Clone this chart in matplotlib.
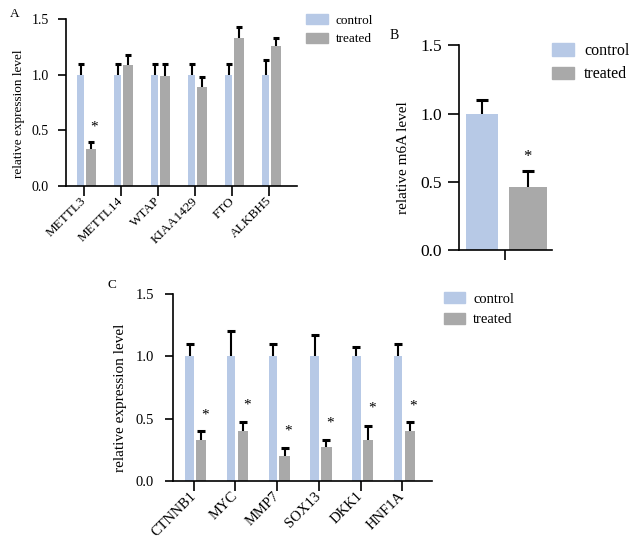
import matplotlib.pyplot as plt
from matplotlib.patches import Patch
import numpy as np

plt.rcParams['font.family'] = ['Liberation Serif', 'DejaVu Serif']

# panel A
genes_a = ['METTL3', 'METTL14', 'WTAP', 'KIAA1429', 'FTO', 'ALKBH5']
ctrl_a = [1.0, 1.0, 1.0, 1.0, 1.0, 1.0]
ctrl_a_top = [1.10, 1.10, 1.10, 1.10, 1.10, 1.13]
trt_a = [0.33, 1.09, 0.99, 0.89, 1.33, 1.26]
trt_a_top = [0.40, 1.18, 1.10, 0.98, 1.43, 1.33]
star_a = [0.53, None, None, None, None, None]

# panel B
ctrl_b, ctrl_b_top = 1.0, 1.10
trt_b, trt_b_top = 0.46, 0.58
star_b = 0.68

# panel C
genes_c = ['CTNNB1', 'MYC', 'MMP7', 'SOX13', 'DKK1', 'HNF1A']
ctrl_c = [1.0, 1.0, 1.0, 1.0, 1.0, 1.0]
ctrl_c_top = [1.10, 1.20, 1.10, 1.17, 1.07, 1.10]
trt_c = [0.33, 0.40, 0.20, 0.27, 0.33, 0.40]
trt_c_top = [0.40, 0.47, 0.26, 0.33, 0.44, 0.47]
star_c = [0.53, 0.61, 0.40, 0.46, 0.58, 0.60]

blue = '#b7c9e6'
grey = '#a9a9a9'

fig = plt.figure(figsize=(6.31, 5.44), dpi=100)


def style(ax, fs, ylen, ypad):
    for s in ['top', 'right']:
        ax.spines[s].set_visible(False)
    for s in ['left', 'bottom']:
        ax.spines[s].set_linewidth(1.2)
    ax.set_ylim(0, 1.5)
    ax.set_yticks([0, 0.5, 1.0, 1.5])
    ax.set_yticklabels(['0.0', '0.5', '1.0', '1.5'])
    ax.tick_params(width=1.2, labelsize=fs)
    ax.tick_params(axis='y', length=ylen, pad=ypad)
    ax.tick_params(axis='x', length=7.5, pad=2)


def up_err(ax, x, val, top, cap):
    # one-sided error bar: stem from bar top up, cap only at the top
    ax.vlines(x, val, top, color='black', lw=1.5)
    ax.plot(x, top, ls='none', marker='_', ms=cap, mew=2.2, color='black')


def grouped(ax, names, c, ct, t, tt, stars, fs, cap):
    x = np.arange(len(names))
    ax.bar(x - 0.1, c, width=0.2, color=blue)
    ax.bar(x + 0.18, t, width=0.25, color=grey)
    up_err(ax, x - 0.1, c, ct, cap)
    up_err(ax, x + 0.18, t, tt, cap)
    for xi, s in zip(x, stars):
        if s is not None:
            ax.text(xi + 0.27, s, '*', ha='center', va='center', fontsize=11)
    ax.set_xticks(x)
    ax.set_xticklabels(names, rotation=45, ha='right', va='center',
                       rotation_mode='anchor', fontsize=fs)


legend_handles = [Patch(color=blue, label='control'), Patch(color=grey, label='treated')]


def add_legend(ax, bx, by, fs, hl, ls):
    ax.legend(handles=legend_handles, loc='upper left', bbox_to_anchor=(bx, by),
              frameon=False, fontsize=fs, handlelength=hl, handleheight=0.8,
              handletextpad=0.6, labelspacing=ls, borderpad=0, borderaxespad=0)


# A
ax_a = fig.add_axes([0.105, 0.658, 0.366, 0.307])
style(ax_a, 10, 6, 6.5)
grouped(ax_a, genes_a, ctrl_a, ctrl_a_top, trt_a, trt_a_top, star_a, 9.5, 5)
ax_a.set_xlim(-0.49, 5.75)
ax_a.set_ylabel('relative expression level', fontsize=9.5)
ax_a.yaxis.set_label_coords(-0.18, 0.43)
add_legend(ax_a, 1.04, 1.03, 9.5, 1.6, 0.45)
fig.text(0.016, 0.975, 'A', fontsize=9.5, va='center')

# B
ax_b = fig.add_axes([0.727, 0.540, 0.148, 0.377])
style(ax_b, 12.5, 8, 4)
ax_b.bar(-0.25, ctrl_b, width=0.34, color=blue)
ax_b.bar(0.24, trt_b, width=0.40, color=grey)
up_err(ax_b, [-0.25], [ctrl_b], [ctrl_b_top], 9)
up_err(ax_b, [0.24], [trt_b], [trt_b_top], 9)
ax_b.text(0.24, star_b, '*', ha='center', va='center', fontsize=12)
ax_b.set_xlim(-0.5, 0.5)
ax_b.set_xticks([0])
ax_b.set_xticklabels([''])
ax_b.tick_params(axis='x', length=7)
ax_b.set_ylabel('relative m6A level', fontsize=11)
ax_b.yaxis.set_label_coords(-0.52, 0.454)
add_legend(ax_b, 1.0, 1.01, 11.5, 1.4, 0.45)
fig.text(0.618, 0.935, 'B', fontsize=10, va='center')

# C
ax_c = fig.add_axes([0.274, 0.116, 0.411, 0.344])
style(ax_c, 10.5, 5.5, 8)
grouped(ax_c, genes_c, ctrl_c, ctrl_c_top, trt_c, trt_c_top, star_c, 10.5, 5.5)
ax_c.set_xlim(-0.5, 5.72)
ax_c.set_ylabel('relative expression level', fontsize=11)
ax_c.yaxis.set_label_coords(-0.177, 0.444)
add_legend(ax_c, 1.046, 1.01, 10.5, 1.4, 0.5)
fig.text(0.171, 0.476, 'C', fontsize=9.5, va='center')

fig.savefig('out.png', dpi=100)
